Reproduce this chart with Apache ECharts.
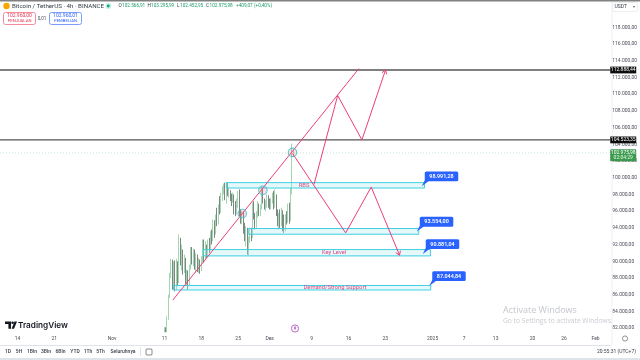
<!DOCTYPE html>
<html><head><meta charset="utf-8">
<script src="https://cdn.jsdelivr.net/npm/echarts@6/dist/echarts.min.js"></script>
<style>html,body{margin:0;padding:0;background:#fff}#c{width:640px;height:360px}</style>
</head><body><div id="c"></div>
<script>
const T = s => Date.parse(s + ':00Z');
const firstCandle = '2024-11-11T00:00';
const candleStepHours = 6;
// open, close, low, high (thousands USDT)
const ohlc = [
[81.6,81.9,81.5,82.1],[81.9,81.6,81.5,82.1],[81.6,83.2,81.5,83.4],[83.2,85.8,83.0,86.0],[85.8,88.2,85.6,88.6],
[88.2,89.6,88.0,90.3],[89.6,87.2,86.6,90.2],[87.2,89.4,87.0,90.0],[89.4,87.0,86.4,90.1],[87.0,88.6,86.6,90.3],
[88.6,87.6,87.0,90.0],[87.9,91.8,87.4,93.2],[91.8,90.2,89.5,92.8],[90.2,91.0,88.9,92.0],[91.0,89.4,88.4,91.4],
[89.4,90.2,88.6,90.8],[90.2,87.8,87.3,90.4],[87.8,88.6,87.0,89.0],[88.6,87.3,86.6,88.9],[87.3,89.2,87.0,89.6],
[89.2,91.2,89.0,91.7],[91.2,90.0,89.6,91.7],[90.0,91.0,89.4,91.5],[91.0,89.6,89.0,91.4],[89.6,90.6,88.6,91.0],
[90.6,89.4,88.7,90.8],[89.4,90.0,88.6,90.4],[90.0,89.0,88.5,90.2],[89.0,90.2,88.8,90.6],[90.2,92.2,89.9,92.6],
[92.2,90.4,89.8,92.6],[90.4,91.8,90.2,92.4],[91.8,90.8,90.4,92.0],[90.8,92.2,90.5,92.6],[92.2,91.4,91.0,92.8],
[91.4,93.2,91.2,93.6],[93.2,92.6,92.0,93.8],[92.6,94.6,92.4,95.0],[94.6,93.4,92.8,94.9],[93.4,95.2,93.2,95.6],
[95.2,94.6,94.2,96.4],[94.6,96.4,94.4,96.8],[96.4,96.0,95.6,97.8],[96.0,97.6,95.8,98.2],[97.6,98.4,97.2,99.0],
[98.4,98.9,98.0,99.3],[98.9,97.8,97.3,99.4],[97.8,98.6,96.9,99.5],[98.6,98.0,97.8,99.4],[98.0,98.3,97.6,98.8],
[98.3,97.8,97.2,98.5],[97.8,97.2,96.6,98.1],[97.2,97.6,97.0,98.2],[97.6,96.4,95.6,98.0],[96.4,95.8,95.4,97.2],
[95.8,97.0,95.6,97.5],[97.0,97.9,96.4,98.4],[97.9,95.8,95.4,98.6],[95.8,94.9,94.5,96.2],[94.9,95.8,94.4,96.0],
[95.8,94.2,93.3,96.0],[94.2,92.9,92.4,94.6],[92.9,93.8,91.8,94.2],[93.8,91.4,90.8,94.0],[91.4,92.6,90.7,93.0],
[92.6,93.6,92.2,94.0],[93.6,93.0,92.4,94.0],[93.0,96.6,92.8,97.0],[96.6,95.4,95.0,97.2],[95.4,94.2,93.8,95.8],
[94.2,95.6,94.0,96.0],[95.6,96.6,95.2,97.2],[96.6,95.8,95.4,96.9],[95.8,96.4,95.4,96.8],[96.4,98.2,96.2,99.0],
[98.2,97.3,96.9,98.6],[97.3,96.6,96.2,97.5],[96.6,96.9,96.0,97.3],[96.9,97.6,96.4,98.0],[97.6,96.9,96.4,97.9],
[96.9,96.4,96.2,97.5],[96.4,97.2,96.2,97.6],[97.2,97.9,96.9,98.2],[97.9,96.8,96.2,98.4],[96.8,97.8,96.4,98.6],
[97.8,96.0,95.4,98.0],[96.0,94.8,94.2,96.2],[94.8,95.4,93.8,95.8],[95.4,94.6,94.0,96.2],[94.6,95.8,94.2,96.4],
[95.8,94.2,93.6,96.1],[94.2,93.8,93.4,95.6],[93.8,95.2,93.6,95.6],[95.2,94.8,94.4,96.0],[94.8,96.4,94.6,96.9],
[96.4,95.6,94.5,97.0],[95.6,98.4,94.8,98.8],[98.4,102.6,98.0,104.1],[102.567,102.976,102.453,103.296]
];
const yTicks = [82000,84000,86000,88000,90000,92000,94000,96000,98000,100000,102000,104000,106000,108000,110000,112000,114000,116000,118000];
const xTickDates = ['2024-10-14','2024-10-21','2024-11-01','2024-11-11','2024-11-18','2024-11-25','2024-12-01','2024-12-09','2024-12-16','2024-12-23','2025-01-01','2025-01-07','2025-01-13','2025-01-20','2025-01-26','2025-02-01'];
const xTickLabels = ['14','21','Nov','11','18','25','Des','9','16','23','2025','7','13','20','26','Feb'];
const xMin = '2024-10-10T16:19', xMax = '2025-02-03T19:12';
const levelLines = [112888.44, 104523.35];
const lastPrice = 102975.98;
const zoneStart = ['2024-11-22T18:00','2024-11-26T22:00','2024-11-18T09:00','2024-11-12T16:30'];
const zoneEnd   = ['2024-12-30T11:00','2024-12-29T09:00','2024-12-31T14:00','2024-12-31T15:30'];
const zoneHigh  = [99410,93915,91400,87100];
const zoneLow   = [98765,93235,90640,86560];
const zoneNoteText = ['RBS','Key Level','Demand/Strong Support'];
const zoneNoteDate = ['2024-12-07T13:00','2024-12-13T06:00','2024-12-13T10:00'];
const zoneNotePrice = [99090,91020,86830];
const calloutText = ['98.991,28','93.554,00','90.881,04','87.044,84'];
const calloutPrice = [98991.28,93554,90881.04,87044.84];
const calloutDate = ['2024-12-29T22:30','2024-12-28T23:50','2024-12-30T03:00','2024-12-31T08:40'];
const trendLine = [['2024-11-12T13:30',85349],['2024-12-17T23:30',113066]];
const bullPath = [['2024-12-09T10:30',99207],['2024-12-13T22:30',109840],['2024-12-18T13:12',104523],['2024-12-23T01:00',112888]];
const bearPath = [['2024-12-05T08:00',102911],['2024-12-15T11:00',93389],['2024-12-20T07:40',98885],['2024-12-25T17:00',90725]];
const touchPoints = [['2024-11-25T18:45',95707],['2024-11-29T17:00',98490],['2024-12-05T08:00',103030]];

const PINK = '#ec3f78', CYAN = '#3fcfe0', GREY='#4a4e59';
const fmtPrice = v => {
  const s = Math.round(v).toString().replace(/\B(?=(\d{3})+$)/g,'.');
  return s + ',00';
};
const candleData = ohlc.map((r,i)=>[T(firstCandle)+i*candleStepHours*3600000, r[0]*1000, r[1]*1000, r[2]*1000, r[3]*1000]);
const tickMap = {}; xTickDates.forEach((d,i)=>{tickMap[Date.parse(d+'T00:00:00Z')]=xTickLabels[i];});
const xTickValues = xTickDates.map(d=>Date.parse(d+'T00:00:00Z'));
const hline = (name,v,style)=>({type:'line',name,showSymbol:false,silent:true,animation:false,z:3,
  data:[[T(xMin),v],[T(xMax),v]],lineStyle:style});

function txt(x,y,text,size,color,opt){
  return {type:'text',x,y,silent:true,z:20,style:Object.assign({text,fontSize:size,fill:color,fontFamily:'Roboto, "Noto Sans", sans-serif',verticalAlign:'middle'},opt||{})};
}
const rangeBtn = [['1D',8],['5H',19],['1Bln',32],['3Bln',46],['6Bln',60.5],['YTD',75],['1Th',88],['5Th',100.5],['Seluruhnya',123]];
const graphicEls = [
  {type:'rect',shape:{x:0,y:0,width:640,height:1.6},style:{fill:'#808080'},z:20,silent:true},
  {type:'rect',shape:{x:0,y:358,width:640,height:2},style:{fill:'#dfe3ea'},z:20,silent:true},
  {type:'line',shape:{x1:612,y1:0,x2:612,y2:345},style:{stroke:'#eef0f3',lineWidth:1},z:1,silent:true},
  {type:'circle',shape:{cx:6.5,cy:6,r:3.2},style:{fill:'#f7a600'},z:20,silent:true},
  txt(12,6,'Bitcoin / TetherUS · 4h · BINANCE',6.2,'#333b46'),
  {type:'circle',shape:{cx:108.3,cy:6,r:3},style:{fill:'#c9efe4'},z:20,silent:true},
  {type:'circle',shape:{cx:108.3,cy:6,r:1.4},style:{fill:'#12a67f'},z:20,silent:true},
  txt(118.5,6,'O',4.7,'#333b46'),txt(122,6,'102.566,91',4.7,'#1f9d6a'),
  txt(147.5,6,'H',4.7,'#333b46'),txt(151,6,'103.295,99',4.7,'#1f9d6a'),
  txt(177,6,'L',4.7,'#333b46'),txt(180,6,'102.452,95',4.7,'#1f9d6a'),
  txt(206,6,'C',4.7,'#333b46'),txt(209.5,6,'102.975,98',4.7,'#1f9d6a'),
  txt(236,6,'+409,07 (+0,40%)',4.7,'#1f9d6a'),
  {type:'rect',shape:{x:3.5,y:12.5,width:32,height:12,r:2},style:{fill:'#fff',stroke:'#f58a9c',lineWidth:1},z:20,silent:true},
  txt(19.5,16,'102.960,00',5,'#e5354f',{align:'center'}),
  txt(19.5,21,'PENJUALAN',4.2,'#e5354f',{align:'center'}),
  txt(42,18.5,'0,01',4.6,'#4a4e59',{align:'center'}),
  {type:'rect',shape:{x:49.5,y:12.5,width:32,height:12,r:2},style:{fill:'#fff',stroke:'#7b9cf7',lineWidth:1},z:20,silent:true},
  txt(65.5,16,'102.960,01',5,'#2962ff',{align:'center'}),
  txt(65.5,21,'PEMBELIAN',4.2,'#2962ff',{align:'center'}),
  {type:'rect',shape:{x:612.5,y:2.5,width:25,height:9,r:1.5},style:{fill:'#fff',stroke:'#eceef2',lineWidth:1},z:20,silent:true},
  txt(614.5,7,'USDT',5,'#333b46'),txt(634,7,'▾',4,'#666',{align:'center'}),
  {type:'polygon',shape:{points:[[5,321.5],[11,321.5],[11,328.8],[8.4,328.8],[8.4,324],[5,324]]},style:{fill:'#131722'},z:20,silent:true},
  {type:'circle',shape:{cx:12.6,cy:322.8,r:1.3},style:{fill:'#131722'},z:20,silent:true},
  {type:'polygon',shape:{points:[[14.5,321.5],[17,321.5],[14,328.8],[11.6,328.8]]},style:{fill:'#131722'},z:20,silent:true},
  txt(18,325.2,'TradingView',8.2,'#131722',{fontWeight:600,fontFamily:'Inter, Roboto, sans-serif'}),
  {type:'circle',shape:{cx:295,cy:328.5,r:3.6},style:{fill:'#fff',stroke:'#ba68c8',lineWidth:1},z:20,silent:true},
  txt(295,328.7,'#',4.6,'#9c4fb5',{align:'center'}),
  txt(503,310.5,'Activate Windows',9,'#c3c6cc',{fontFamily:'"Open Sans", sans-serif'}),
  txt(503,321,'Go to Settings to activate Windows.',6.7,'#c9ccd2',{fontFamily:'"Open Sans", sans-serif'}),
  {type:'circle',shape:{cx:625,cy:338.5,r:2.6},style:{fill:'none',stroke:'#666',lineWidth:.7},z:20,silent:true},
  {type:'line',shape:{x1:140.5,y1:347,x2:140.5,y2:356},style:{stroke:'#e0e3eb',lineWidth:1},z:20,silent:true},
  {type:'rect',shape:{x:146,y:349,width:6,height:6,r:1},style:{fill:'none',stroke:'#555',lineWidth:.7},z:20,silent:true},
  txt(636,352,'20:55:31 (UTC+7)',5,'#3a3f4a',{align:'right'})
].concat(rangeBtn.map(b=>txt(b[1],352,b[0],5,'#3a3f4a',{align:'center',fontWeight:500})));

const zoneSeriesData = zoneStart.map((s,i)=>[T(s),T(zoneEnd[i]),zoneHigh[i],zoneLow[i]]);
const pinkPaths = [{pts:trendLine,arrow:false},{pts:bullPath,arrow:true},{pts:bearPath,arrow:true}];

const option = {
  animation:false, backgroundColor:'#fff',
  grid:{left:0,top:10.6,width:612,height:334.2,containLabel:false},
  xAxis:{type:'value',min:T(xMin),max:T(xMax),scale:true,splitLine:{show:false},
    axisLine:{show:true,onZero:false,lineStyle:{color:'#e0e3eb',width:1}},axisTick:{show:false},
    axisLabel:{customValues:xTickValues,inside:true,margin:4,fontSize:5,color:GREY,fontFamily:'Roboto, sans-serif',
      hideOverlap:false,showMinLabel:true,showMaxLabel:true,formatter:v=>tickMap[v]||''}},
  yAxis:{type:'value',position:'right',min:80000,max:120000,interval:2000,splitLine:{show:false},
    axisLine:{show:false},axisTick:{show:false},
    axisLabel:{customValues:yTicks,margin:2,fontSize:5,color:GREY,fontFamily:'Roboto, sans-serif',formatter:fmtPrice}},
  graphic:{elements:graphicEls},
  series:[
    {type:'candlestick',name:'BTCUSDT',barWidth:1,z:2,data:candleData,encode:{x:0,y:[1,2,3,4]},silent:true,
      itemStyle:{color:'#a3d6b1',color0:'#7c8983',borderColor:'#a3d6b1',borderColor0:'#7c8983',borderWidth:1}},
    hline('res1',levelLines[0],{color:'#555',width:1.4}),
    hline('res2',levelLines[1],{color:'#555',width:1.4}),
    hline('last',lastPrice,{color:'#bfe5cc',width:.8,type:[1,2]}),
    {type:'custom',name:'zones',z:4,silent:true,data:zoneSeriesData,encode:{x:[0,1],y:[2,3]},
      renderItem(p,api){
        const a=api.coord([api.value(0),api.value(2)]),b=api.coord([api.value(1),api.value(3)]);
        return {type:'rect',shape:{x:a[0],y:a[1],width:b[0]-a[0],height:b[1]-a[1]},
          style:{fill:'rgba(170,232,242,0.3)',stroke:CYAN,lineWidth:1}};
      }},
    {type:'custom',name:'paths',z:6,silent:true,data:pinkPaths.map((q,i)=>[T(q.pts[0][0]),q.pts[0][1]]),clip:false,
      renderItem(p,api){
        const q=pinkPaths[p.dataIndex];
        const pts=q.pts.map(d=>api.coord([T(d[0]),d[1]]));
        const ch=[{type:'polyline',shape:{points:pts},style:{stroke:PINK,fill:'none',lineWidth:1}}];
        if(q.arrow){
          const e=pts[pts.length-1],f=pts[pts.length-2],ang=Math.atan2(e[1]-f[1],e[0]-f[0]),L=4.5;
          const w=[ang+2.55,ang-2.55].map(t=>[e[0]+L*Math.cos(t),e[1]+L*Math.sin(t)]);
          ch.push({type:'polyline',shape:{points:[w[0],e,w[1]]},style:{stroke:PINK,fill:'none',lineWidth:1}});
        }
        return {type:'group',children:ch};
      }},
    {type:'scatter',name:'touch',z:7,silent:true,symbolSize:8.5,data:touchPoints.map(d=>[T(d[0]),d[1]]),
      itemStyle:{color:'rgba(236,90,110,0.22)',borderColor:'#35bfd4',borderWidth:1.1}},
    {type:'custom',name:'notes',z:8,silent:true,data:zoneNoteText.map((t,i)=>[T(zoneNoteDate[i]),zoneNotePrice[i]]),
      renderItem(p,api){
        const c=api.coord([api.value(0),api.value(1)]);
        return {type:'text',x:c[0],y:c[1],style:{text:zoneNoteText[p.dataIndex],fontSize:5.8,fill:'#e0457f',
          align:'center',verticalAlign:'middle',fontFamily:'Roboto, sans-serif'}};
      }},
    {type:'custom',name:'callouts',z:9,silent:true,clip:false,data:calloutText.map((t,i)=>[T(calloutDate[i]),calloutPrice[i]]),
      renderItem(p,api){
        const c=api.coord([api.value(0),api.value(1)]);
        const x=c[0]+3,y=c[1]-14.7,w=33.5,h=9.8;
        return {type:'group',children:[
          {type:'polygon',shape:{points:[[c[0],c[1]],[x,y+h-1],[x+5,y+h-1]]},style:{fill:'#2962ff'}},
          {type:'rect',shape:{x,y,width:w,height:h,r:1.5},style:{fill:'#2962ff'}},
          {type:'text',x:x+w/2,y:y+h/2+.2,style:{text:calloutText[p.dataIndex],fontSize:5.4,fontWeight:600,fill:'#fff',
            align:'center',verticalAlign:'middle',fontFamily:'Roboto, sans-serif'}}
        ]};
      }},
    {type:'custom',name:'axisTags',z:10,silent:true,clip:false,
      data:[[T(xMax),levelLines[0]],[T(xMax),levelLines[1]],[T(xMax),lastPrice]],
      renderItem(p,api){
        const c=api.coord([api.value(0),api.value(1)]);
        const i=p.dataIndex;
        if(i<2){
          return {type:'group',children:[
            {type:'rect',shape:{x:c[0],y:c[1]-3.4,width:26,height:6.8},style:{fill:'#0d0d0d'}},
            {type:'text',x:c[0]+13,y:c[1]+.1,style:{text:['112.888,44','104.523,35'][i],fontSize:5,fill:'#fff',align:'center',verticalAlign:'middle',fontFamily:'Roboto, sans-serif'}}
          ]};
        }
        return {type:'group',children:[
          {type:'rect',shape:{x:c[0],y:c[1]-3.6,width:26,height:12,r:.8},style:{fill:'#3c9a4e'}},
          {type:'text',x:c[0]+13,y:c[1]-.2,style:{text:'102.975,98',fontSize:5,fill:'#fff',align:'center',verticalAlign:'middle',fontFamily:'Roboto, sans-serif'}},
          {type:'text',x:c[0]+13,y:c[1]+5,style:{text:'02:04:29',fontSize:5,fill:'#eaf7ee',align:'center',verticalAlign:'middle',fontFamily:'Roboto, sans-serif'}}
        ]};
      }}
  ]
};
echarts.init(document.getElementById('c'),null,{renderer:'canvas'}).setOption(option);
</script></body></html>
